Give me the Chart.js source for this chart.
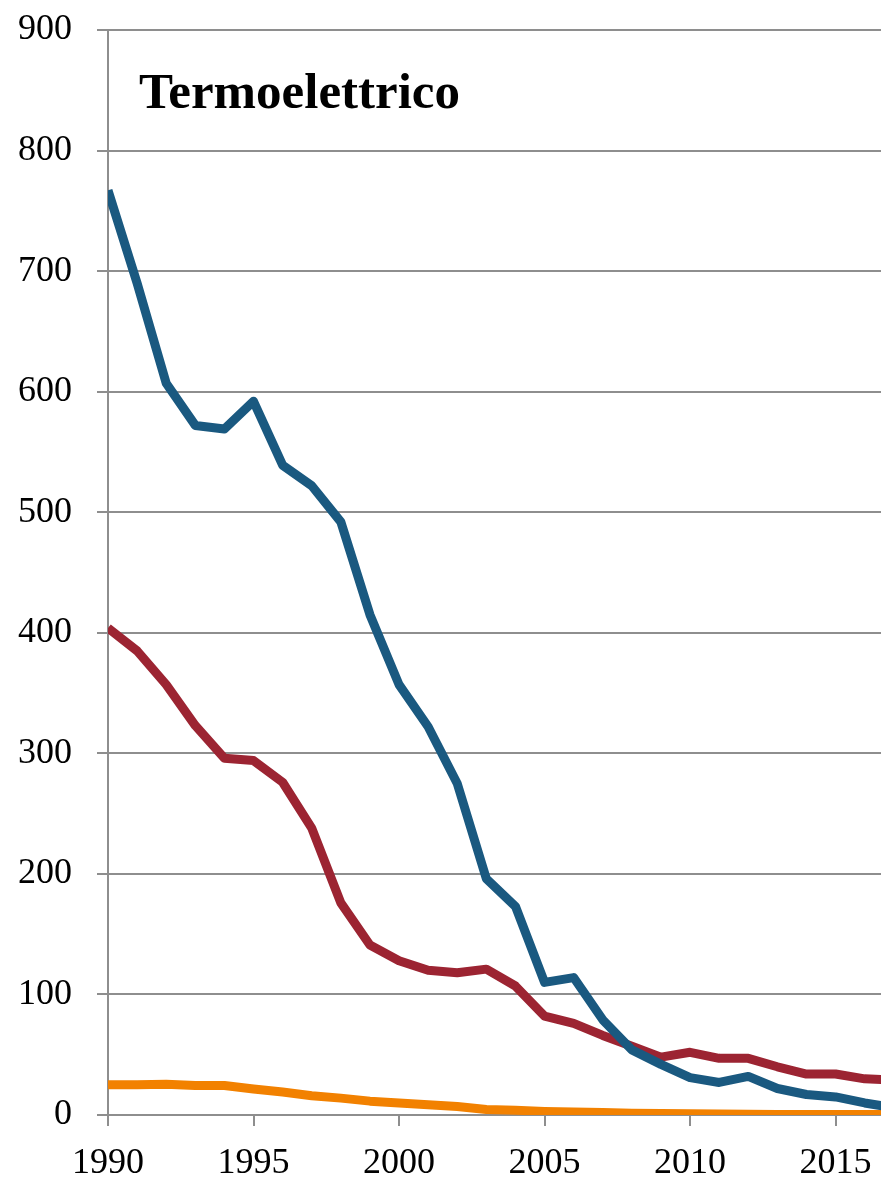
<!DOCTYPE html>
<html>
<head>
<meta charset="utf-8">
<title>Termoelettrico</title>
<script src="https://cdn.jsdelivr.net/npm/chart.js@4/dist/chart.umd.min.js"></script>
<style>
  html, body { margin: 0; padding: 0; background: #ffffff; overflow: hidden; }
  canvas { display: block; }
</style>
</head>
<body>
<canvas id="chart" width="881" height="1181"></canvas>
<script>
// Years on the horizontal axis
const years = [1990, 1991, 1992, 1993, 1994, 1995, 1996, 1997, 1998, 1999,
               2000, 2001, 2002, 2003, 2004, 2005, 2006, 2007, 2008, 2009,
               2010, 2011, 2012, 2013, 2014, 2015, 2016, 2017];

// Series values
const serieBlu = [767, 690, 607, 572, 569, 592, 539, 522, 492, 415,
                  357, 322, 275, 196, 173, 110, 114, 79, 54, 42,
                  31, 27, 32, 22, 17, 15, 10, 6];
const serieRossa = [404, 385, 357, 323, 296, 294, 276, 238, 176, 141,
                    128, 120, 118, 121, 107, 82, 76, 66, 57, 48,
                    52, 47, 47, 40, 34, 34, 30, 29];
const serieArancio = [25, 25, 25.5, 24.5, 24.5, 21.5, 19, 16, 14, 11.5,
                      10, 8.5, 7, 4.5, 4, 3, 2.5, 2, 1.5, 1.2,
                      1, 0.8, 0.6, 0.5, 0.5, 0.5, 0.5, 0.5];

// Axis settings
const yTicks = [0, 100, 200, 300, 400, 500, 600, 700, 800, 900];
const xTickStep = 5;
const titolo = 'Termoelettrico';

const toPoints = (vals) => vals.map((v, i) => ({ x: years[i], y: v }));

const serif = '"Liberation Serif", "DejaVu Serif", serif';
const gridColor = '#8e8e8e';

const titlePlugin = {
  id: 'panelTitle',
  afterDraw(chart) {
    const ctx = chart.ctx;
    ctx.save();
    ctx.font = 'bold 51px ' + serif;
    ctx.fillStyle = '#000000';
    ctx.textBaseline = 'alphabetic';
    ctx.textAlign = 'left';
    ctx.fillText(titolo, 139, 108);
    ctx.restore();
  }
};

const lineStyle = {
  borderWidth: 9,
  pointRadius: 0,
  pointHoverRadius: 0,
  tension: 0,
  borderJoinStyle: 'round',
  borderCapStyle: 'butt',
  fill: false
};

// Keep the plot area edges fixed: no extra room reserved for edge labels
const noEdgePadding = (scale) => {
  scale.paddingTop = 0;
  scale.paddingBottom = 0;
  scale.paddingLeft = 0;
  scale.paddingRight = 0;
};

new Chart(document.getElementById('chart'), {
  type: 'line',
  data: {
    datasets: [
      Object.assign({ data: toPoints(serieBlu), borderColor: '#1A5980' }, lineStyle),
      Object.assign({ data: toPoints(serieRossa), borderColor: '#9C2432' }, lineStyle),
      Object.assign({ data: toPoints(serieArancio), borderColor: '#F28100' }, lineStyle)
    ]
  },
  options: {
    responsive: false,
    animation: false,
    events: [],
    layout: { padding: { top: 30, right: 0, left: 0, bottom: 0 } },
    plugins: {
      legend: { display: false },
      tooltip: { enabled: false },
      title: { display: false }
    },
    scales: {
      x: {
        type: 'linear',
        min: years[0],
        max: 2016.56,
        afterFit(scale) { scale.height = 66; noEdgePadding(scale); },
        ticks: {
          stepSize: xTickStep,
          includeBounds: false,
          autoSkip: false,
          maxRotation: 0,
          padding: 16,
          color: '#000000',
          font: { family: serif, size: 36 },
          callback: (v) => String(v)
        },
        grid: {
          drawOnChartArea: false,
          drawTicks: true,
          tickLength: 11,
          color: gridColor,
          lineWidth: 2
        },
        border: { display: true, color: gridColor, width: 2 }
      },
      y: {
        min: yTicks[0],
        max: yTicks[yTicks.length - 1],
        afterFit(scale) { scale.width = 108; noEdgePadding(scale); },
        afterBuildTicks(scale) { scale.ticks = yTicks.map(v => ({ value: v })); },
        ticks: {
          padding: 25,
          color: '#000000',
          font: { family: serif, size: 36 },
          callback: (v) => String(v)
        },
        grid: {
          drawOnChartArea: true,
          drawTicks: true,
          tickLength: 11,
          color: gridColor,
          lineWidth: 2
        },
        border: { display: true, color: gridColor, width: 2 }
      }
    }
  },
  plugins: [titlePlugin]
});
</script>
</body>
</html>
